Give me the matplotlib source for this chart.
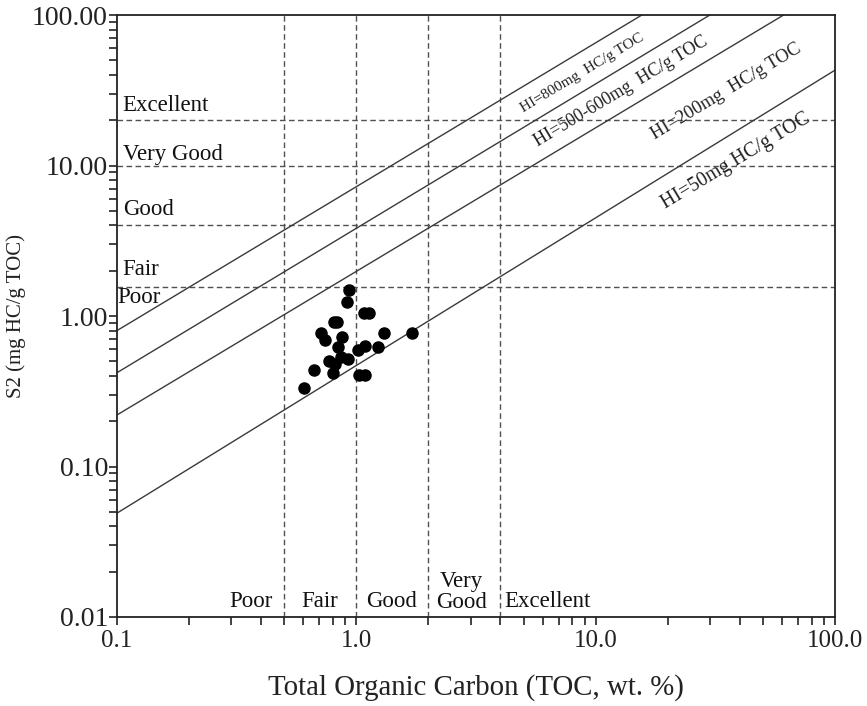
import matplotlib
matplotlib.use('Agg')
import matplotlib.pyplot as plt
from matplotlib.ticker import FixedLocator, FixedFormatter, LogLocator, NullFormatter
import matplotlib.transforms as mtransforms

# ---------------- data ----------------
toc = [0.935, 0.911, 1.080, 1.126, 0.809, 0.827, 0.715, 0.737, 0.868, 1.306,
       1.705, 0.841, 1.020, 1.088, 1.233, 0.771, 0.817, 0.863, 0.923, 0.665,
       0.801, 1.023, 1.083, 0.606]
s2 = [1.48, 1.245, 1.04, 1.04, 0.912, 0.912, 0.767, 0.692, 0.722, 0.767,
      0.767, 0.622, 0.597, 0.629, 0.625, 0.502, 0.482, 0.534, 0.520, 0.4375,
      0.42, 0.403, 0.403, 0.331]

# HI reference lines (start at TOC=0.1, end at frame)
hi_labels = ["HI=800mg  HC/g TOC", "HI=500-600mg  HC/g TOC",
             "HI=200mg  HC/g TOC", "HI=50mg HC/g TOC"]
hi_start_toc = [0.1, 0.1, 0.1, 0.1]
hi_start_s2 = [0.80, 0.42, 0.22, 0.049]
hi_end_toc = [15.6, 30.0, 61.0, 100.0]
hi_end_s2 = [100.0, 100.0, 100.0, 43.0]

# quality thresholds
s2_thresholds = [1.55, 4.0, 10.0, 20.0]
s2_classes = ["Poor", "Fair", "Good", "Very Good", "Excellent"]
toc_thresholds = [0.5, 1.0, 2.0, 4.0]
toc_classes = ["Poor", "Fair", "Good", "Very\nGood", "Excellent"]

x_ticks = [0.1, 1.0, 10.0, 100.0]
x_ticklabels = ["0.1", "1.0", "10.0", "100.0"]
y_ticks = [0.01, 0.1, 1.0, 10.0, 100.0]
y_ticklabels = ["0.01", "0.10", "1.00", "10.00", "100.00"]

# ---------------- plot ----------------
plt.rcParams['font.family'] = ['Liberation Serif', 'DejaVu Serif']
fig = plt.figure(figsize=(8.67, 7.06), dpi=100)
ax = fig.add_axes([117/867, 1-617/706, 718/867, 602/706])
ax.set_xscale('log')
ax.set_yscale('log')
ax.set_xlim(0.1, 100)
ax.set_ylim(0.01, 100)

dash = (0, (4, 2.5))
gcol = '#505050'
for t in s2_thresholds:
    ax.plot([0.1, 100], [t, t], color=gcol, lw=1.0, linestyle=dash, zorder=1)
for t in toc_thresholds:
    ax.plot([t, t], [0.01, 100], color=gcol, lw=1.0, linestyle=dash, zorder=1)

for x0, y0, x1, y1 in zip(hi_start_toc, hi_start_s2, hi_end_toc, hi_end_s2):
    ax.plot([x0, x1], [y0, y1], color='#3a3a3a', lw=1.0, zorder=2)

ax.plot(toc, s2, 'o', color='black', ms=8, zorder=3)

# HI labels
hi_pos = [(8.76, 41.3), (12.8, 31.3), (35.2, 30.8), (38.4, 10.7)]
hi_sizes = [11, 13, 13.3, 14.3]
for lab, (px, py), fs in zip(hi_labels, hi_pos, hi_sizes):
    ax.text(px, py, lab, rotation=31, rotation_mode='anchor', ha='center',
            va='center', fontsize=fs, color='#222222', zorder=4)

# S2 class labels on left
blend = mtransforms.blended_transform_factory(ax.transAxes, ax.transData)
left_lab_y = [1.32, 2.05, 5.14, 11.9, 24.9]
left_lab_x = [0.0, 0.008, 0.008, 0.008, 0.008]
for lab, yy, xx in zip(s2_classes, left_lab_y, left_lab_x):
    ax.text(xx, yy, lab, transform=blend, ha='left', va='center',
            fontsize=16.5, color='#111111')

# TOC class labels at bottom
bot_x = [0.363, 0.706, 1.40, 2.75, 6.3]
for lab, xx in zip(toc_classes, bot_x):
    ax.text(xx, 0.0127 if '\n' not in lab else 0.0147, lab, ha='center',
            va='center', fontsize=16.5, color='#111111', linespacing=1.0)

# axes styling
for sp in ax.spines.values():
    sp.set_linewidth(1.3)
    sp.set_color('#222222')
ax.xaxis.set_major_locator(FixedLocator(x_ticks))
ax.xaxis.set_major_formatter(FixedFormatter(x_ticklabels))
ax.yaxis.set_major_locator(FixedLocator(y_ticks))
ax.yaxis.set_major_formatter(FixedFormatter(y_ticklabels))
ax.xaxis.set_minor_locator(LogLocator(base=10, subs=range(2, 10)))
ax.yaxis.set_minor_locator(LogLocator(base=10, subs=range(2, 10)))
ax.xaxis.set_minor_formatter(NullFormatter())
ax.yaxis.set_minor_formatter(NullFormatter())
ax.tick_params(which='both', direction='out', length=5.5, width=1.2,
               color='#222222', top=False, right=False)
ax.tick_params(axis='x', which='major', labelsize=18, pad=4, labelcolor='#222222')
ax.tick_params(axis='y', which='major', labelsize=20, pad=1, labelcolor='#222222')

fig.text(476/867, 1-688/706, "Total Organic Carbon (TOC, wt. %)", fontsize=20.8,
         color='#222222', ha='center', va='center')
fig.text(16/867, 1-316/706, "S2 (mg HC/g TOC)", fontsize=15, rotation=90,
         color='#222222', ha='center', va='center')

fig.savefig('out.png', dpi=100)
